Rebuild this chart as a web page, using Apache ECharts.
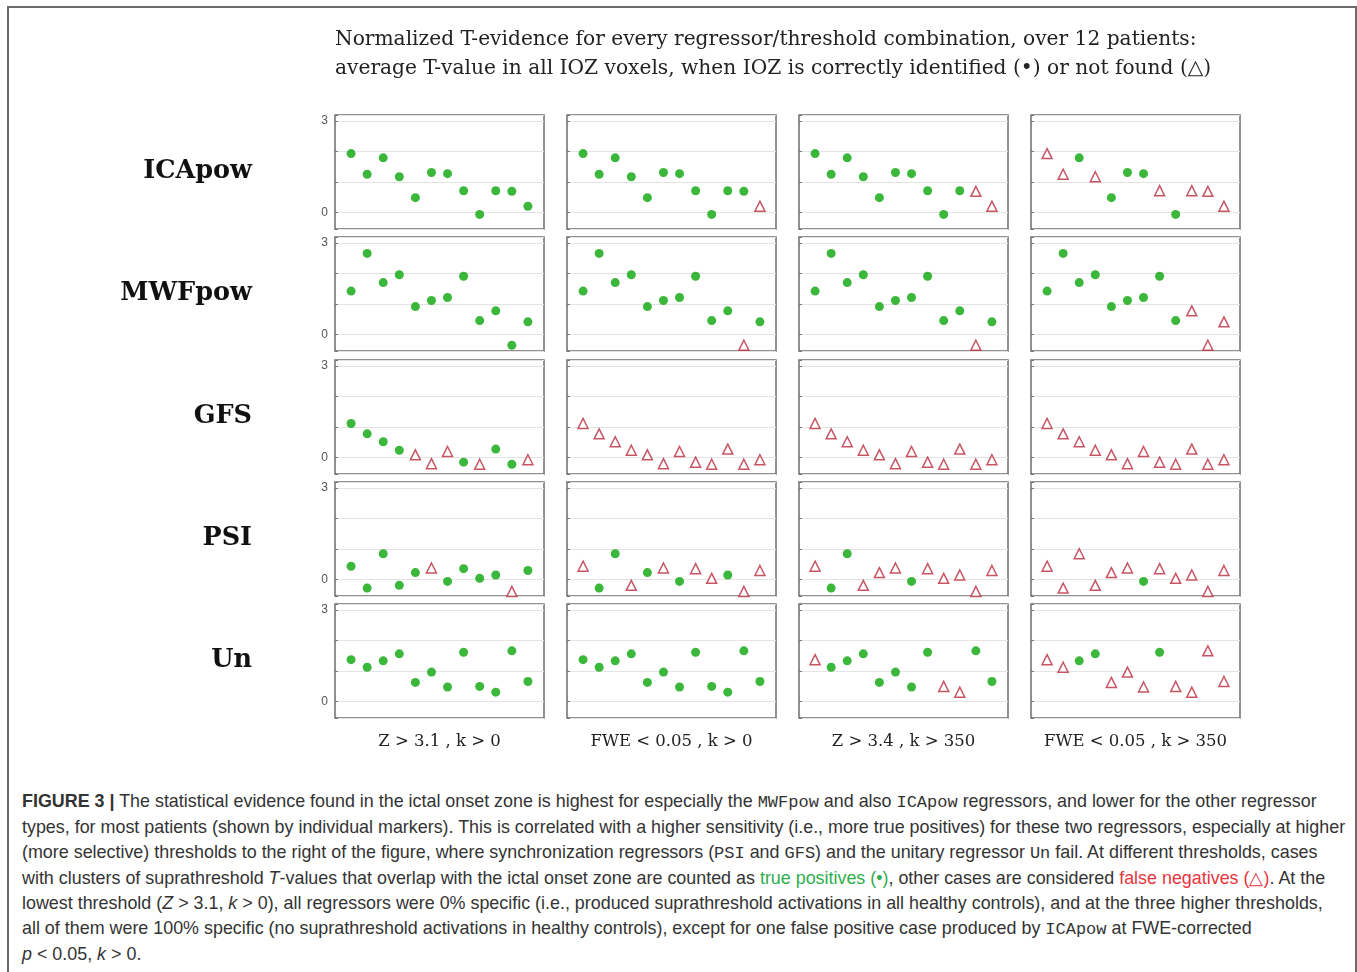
<!DOCTYPE html>
<html>
<head>
<meta charset="utf-8">
<script src="https://cdn.jsdelivr.net/npm/echarts@6/dist/echarts.min.js"></script>
<style>
  html, body { margin: 0; padding: 0; background: #fff; }
  #frame { position: absolute; left: 7px; top: 6px; width: 1346px; height: 1000px; border: 2px solid #6a6a6a; border-bottom: none; }
  #main { position: absolute; left: 0; top: 0; width: 1357px; height: 780px; }
  #caption { position: absolute; left: 22px; top: 789px; font-family: "Liberation Sans", Arial, sans-serif; font-size: 17.9px; line-height: 25px; color: #333; white-space: nowrap; }
  #caption .mono { font-family: "Liberation Mono", "DejaVu Sans Mono", monospace; font-size: 17px; }
  #caption .tp { color: #2fae4e; }
  #caption .fn { color: #e8343c; }
</style>
</head>
<body>
<div id="frame"></div>
<div id="main"></div>
<div id="caption">
  <b>FIGURE 3 |</b> The statistical evidence found in the ictal onset zone is highest for especially the <span class="mono">MWFpow</span> and also <span class="mono">ICApow</span> regressors, and lower for the other regressor<br>
  types, for most patients (shown by individual markers). This is correlated with a higher sensitivity (i.e., more true positives) for these two regressors, especially at higher<br>
  (more selective) thresholds to the right of the figure, where synchronization regressors (<span class="mono">PSI</span> and <span class="mono">GFS</span>) and the unitary regressor <span class="mono">Un</span> fail. At different thresholds, cases<br>
  with clusters of suprathreshold <i>T</i>-values that overlap with the ictal onset zone are counted as <span class="tp">true positives (•)</span>, other cases are considered <span class="fn">false negatives (△)</span>. At the<br>
  lowest threshold (<i>Z</i> &gt; 3.1, <i>k</i> &gt; 0), all regressors were 0% specific (i.e., produced suprathreshold activations in all healthy controls), and at the three higher thresholds,<br>
  all of them were 100% specific (no suprathreshold activations in healthy controls), except for one false positive case produced by <span class="mono">ICApow</span> at FWE-corrected<br>
  <i>p</i> &lt; 0.05, <i>k</i> &gt; 0.
</div>
<script>
// 行：回归量 / 列：阈值
var rowNames = ['ICApow', 'MWFpow', 'GFS', 'PSI', 'Un']
var colNames = ['Z > 3.1 , k > 0', 'FWE < 0.05 , k > 0', 'Z > 3.4 , k > 350', 'FWE < 0.05 , k > 350']
var patients = [1, 2, 3, 4, 5, 6, 7, 8, 9, 10, 11, 12]
var yTickLabels = [0, 3]

// 每个病人的平均 T 值
var icapowVal = [1.93, 1.25, 1.79, 1.17, 0.48, 1.31, 1.27, 0.71, -0.07, 0.71, 0.69, 0.20]
var mwfpowVal = [1.42, 2.66, 1.70, 1.96, 0.91, 1.11, 1.21, 1.91, 0.45, 0.77, -0.36, 0.41]
var gfsVal = [1.11, 0.77, 0.51, 0.23, 0.08, -0.21, 0.19, -0.16, -0.23, 0.27, -0.23, -0.08]
var psiVal = [0.43, -0.29, 0.84, -0.20, 0.22, 0.37, -0.07, 0.35, 0.03, 0.14, -0.40, 0.29]
var unVal = [1.37, 1.12, 1.33, 1.56, 0.62, 0.96, 0.47, 1.61, 0.49, 0.30, 1.66, 0.65]

// 1 = 正确识别 (●), 0 = 未找到 (△)，每行一个阈值
var icapowHit = [
  [1, 1, 1, 1, 1, 1, 1, 1, 1, 1, 1, 1],
  [1, 1, 1, 1, 1, 1, 1, 1, 1, 1, 1, 0],
  [1, 1, 1, 1, 1, 1, 1, 1, 1, 1, 0, 0],
  [0, 0, 1, 0, 1, 1, 1, 0, 1, 0, 0, 0]
]
var mwfpowHit = [
  [1, 1, 1, 1, 1, 1, 1, 1, 1, 1, 1, 1],
  [1, 1, 1, 1, 1, 1, 1, 1, 1, 1, 0, 1],
  [1, 1, 1, 1, 1, 1, 1, 1, 1, 1, 0, 1],
  [1, 1, 1, 1, 1, 1, 1, 1, 1, 0, 0, 0]
]
var gfsHit = [
  [1, 1, 1, 1, 0, 0, 0, 1, 0, 1, 1, 0],
  [0, 0, 0, 0, 0, 0, 0, 0, 0, 0, 0, 0],
  [0, 0, 0, 0, 0, 0, 0, 0, 0, 0, 0, 0],
  [0, 0, 0, 0, 0, 0, 0, 0, 0, 0, 0, 0]
]
var psiHit = [
  [1, 1, 1, 1, 1, 0, 1, 1, 1, 1, 0, 1],
  [0, 1, 1, 0, 1, 0, 1, 0, 0, 1, 0, 0],
  [0, 1, 1, 0, 0, 0, 1, 0, 0, 0, 0, 0],
  [0, 0, 0, 0, 0, 0, 1, 0, 0, 0, 0, 0]
]
var unHit = [
  [1, 1, 1, 1, 1, 1, 1, 1, 1, 1, 1, 1],
  [1, 1, 1, 1, 1, 1, 1, 1, 1, 1, 1, 1],
  [0, 1, 1, 1, 1, 1, 1, 1, 0, 0, 1, 1],
  [0, 0, 1, 1, 0, 0, 0, 1, 0, 0, 0, 0]
]

var rowVals = [icapowVal, mwfpowVal, gfsVal, psiVal, unVal]
var rowHits = [icapowHit, mwfpowHit, gfsHit, psiHit, unHit]

// 版面
var colLeft = [335, 567, 799, 1031]
var rowTop = [115, 237, 360, 482, 604]
var panelW = 209, panelH = 114

var grids = [], xAxes = [], yAxes = [], series = [], graphics = []

rowNames.forEach(function (rn, r) {
  colNames.forEach(function (cn, c) {
    var idx = grids.length
    grids.push({
      left: colLeft[c], top: rowTop[r], width: panelW, height: panelH,
      show: true, borderColor: '#6e6e6e', borderWidth: 1.5, backgroundColor: '#fff'
    })
    xAxes.push({ gridIndex: idx, type: 'value', min: 0, max: 13, show: false })
    yAxes.push({
      gridIndex: idx, type: 'value', min: -0.55, max: 3.2, splitNumber: 4,
      axisLine: { show: false },
      axisTick: { show: true, inside: true, length: 3, lineStyle: { color: '#777' } },
      splitLine: { lineStyle: { color: '#e3e3e3', width: 1 } },
      axisLabel: {
        show: c === 0, color: '#555', fontSize: 12, fontFamily: 'Liberation Sans', margin: 7,
        formatter: function (v) { return yTickLabels.indexOf(v) >= 0 ? String(v) : '' }
      }
    })
    var tp = [], fn = []
    patients.forEach(function (p, i) {
      if (rowHits[r][c][i]) tp.push([p, rowVals[r][i]])
      else fn.push([p, rowVals[r][i]])
    })
    series.push({
      type: 'scatter', xAxisIndex: idx, yAxisIndex: idx, data: tp,
      symbol: 'circle', symbolSize: 9, itemStyle: { color: '#0aa50a' }, silent: true
    })
    series.push({
      type: 'scatter', xAxisIndex: idx, yAxisIndex: idx, data: fn,
      symbol: 'triangle', symbolSize: 10,
      itemStyle: { color: '#fff', borderColor: '#bb2a3c', borderWidth: 1.5 }, silent: true
    })
  })
  graphics.push({
    type: 'text', right: 1357 - 252, top: rowTop[r] + panelH / 2 - 14,
    style: { text: rn, font: 'bold 25.5px "DejaVu Serif"', fill: '#111' }
  })
})

colNames.forEach(function (cn, c) {
  graphics.push({
    type: 'text', x: colLeft[c] + panelW / 2, y: 742,
    style: { text: cn, font: '16.5px "DejaVu Serif"', fill: '#222', align: 'center', verticalAlign: 'middle' }
  })
})

graphics.push({
  type: 'text', x: 335, y: 40,
  style: { text: 'Normalized T-evidence for every regressor/threshold combination, over 12 patients:', font: '20.2px "DejaVu Serif"', fill: '#222', verticalAlign: 'middle' }
})
graphics.push({
  type: 'text', x: 335, y: 69,
  style: { text: 'average T-value in all IOZ voxels, when IOZ is correctly identified (\u2022) or not found (\u25b3)', font: '20.2px "DejaVu Serif"', fill: '#222', verticalAlign: 'middle' }
})

var chart = echarts.init(document.getElementById('main'), null, { renderer: 'canvas' })
chart.setOption({
  animation: false,
  grid: grids,
  xAxis: xAxes,
  yAxis: yAxes,
  series: series,
  graphic: graphics
})
</script>
</body>
</html>
